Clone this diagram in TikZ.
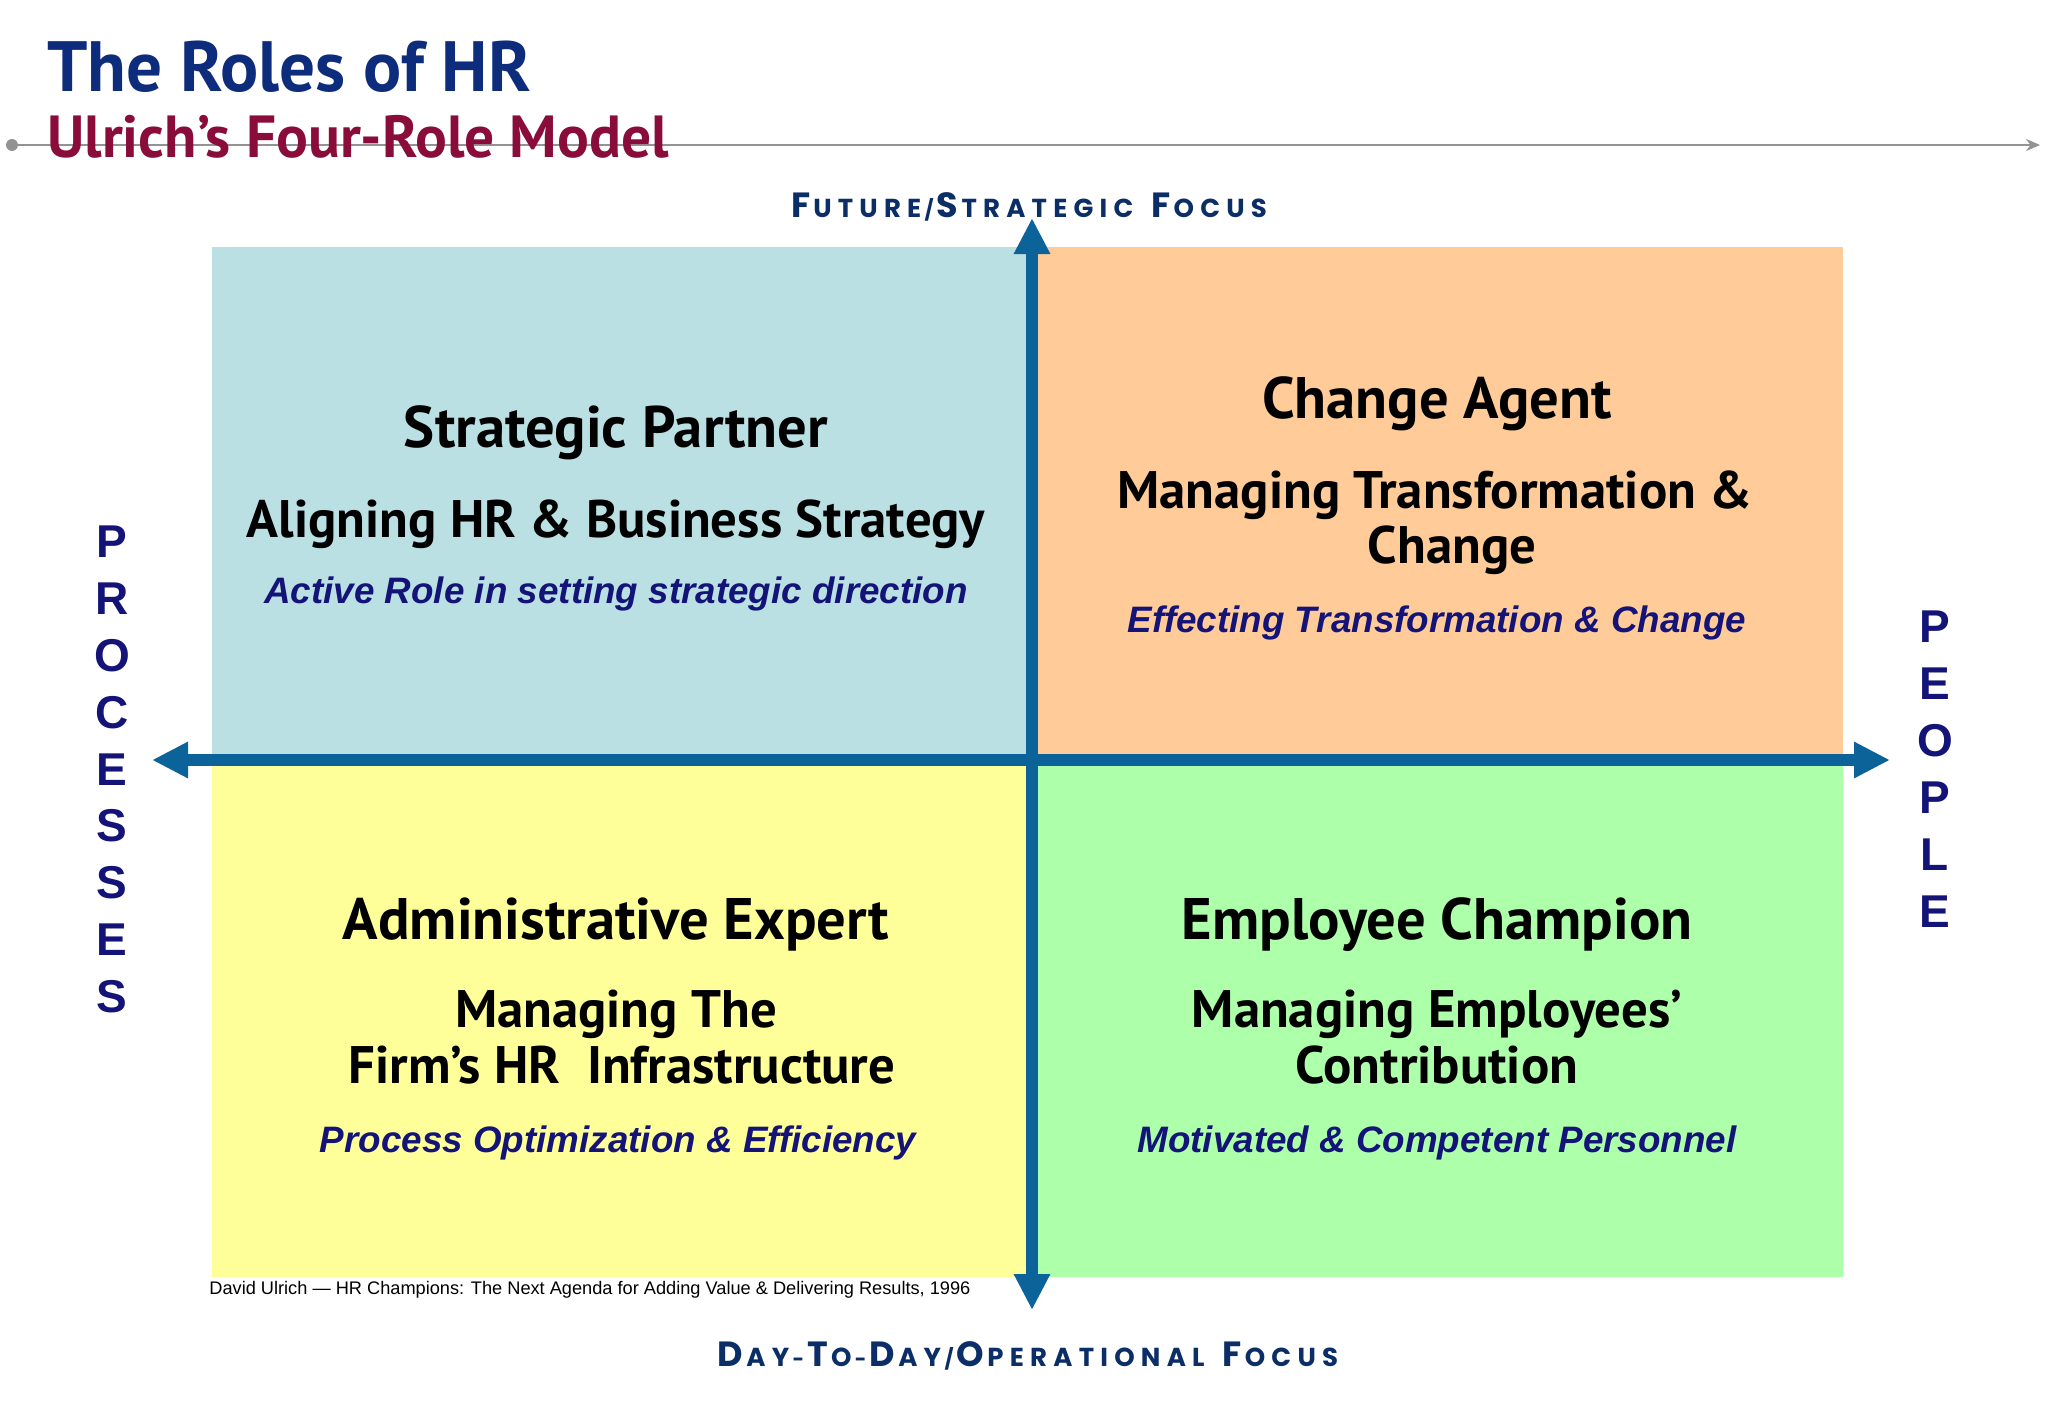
\documentclass[tikz,border=0pt]{standalone}
\usepackage{fontspec}
\usetikzlibrary{arrows.meta}
\setmainfont{Liberation Sans}
\newfontfamily\headfont{PT Sans}
\newfontfamily\axfont{Poppins}[LetterSpace=24]
\definecolor{qtl}{HTML}{BAE0E4}
\definecolor{qtr}{HTML}{FFCC99}
\definecolor{qbl}{HTML}{FFFF99}
\definecolor{qbr}{HTML}{ADFFAA}
\definecolor{axis}{HTML}{0B6399}
\definecolor{titleblue}{HTML}{0E2C7C}
\definecolor{subred}{HTML}{8A0C3A}
\definecolor{navy}{HTML}{141478}
\definecolor{axnavy}{HTML}{0B2E66}
\newcommand\bigsc[2]{{\fontsize{17.5}{18}\selectfont #1\kern1.5pt}{\fontsize{13}{14}\selectfont #2}}
\begin{document}
\begin{tikzpicture}[x=0.5pt,y=-0.5pt,
  quad/.style={fill=#1,draw=none},
  head/.style={inner sep=0,anchor=base,font=\headfont\bfseries\fontsize{29.3}{32}\selectfont,text=black},
  sub/.style={inner sep=0,anchor=base,font=\headfont\bfseries\fontsize{26.4}{30}\selectfont,text=black},
  ital/.style={inner sep=0,anchor=base,font=\bfseries\itshape\fontsize{18.4}{20}\selectfont,text=navy},
  letter/.style={inner sep=0,anchor=center,font=\bfseries\fontsize{23}{24}\selectfont,text=navy},
  axisarrow/.style={line width=6pt,draw=axis,-{Triangle[length=18pt,width=17pt]}},
  axlabel/.style={inner sep=0,anchor=base,font=\axfont\bfseries,text=axnavy}]
\useasboundingbox[fill=white] (0,0) rectangle (2048,1418);
% top rule
\coordinate (ruleL) at (12,145);
\coordinate (ruleR) at (2040,145);
\fill[gray!85] (ruleL) circle (6);
\draw[gray!85,line width=1pt,-{Stealth[length=7pt,width=6pt]}] (ruleL) -- (ruleR);
% titles
\node[inner sep=0,anchor=base west,font=\headfont\bfseries\fontsize{35.6}{38}\selectfont,text=titleblue] (title) at (47,91) {The Roles of HR};
\node[inner sep=0,anchor=base west,font=\headfont\bfseries\fontsize{29.7}{32}\selectfont,text=subred] (subtitle) at (47,157) {Ulrich’s Four-Role Model};
% quadrants
\fill[quad=qtl] (212,247) rectangle (1032,760);
\fill[quad=qtr] (1032,247) rectangle (1843,760);
\fill[quad=qbl] (212,760) rectangle (1032,1277);
\fill[quad=qbr] (1032,760) rectangle (1843,1277);
% axes
\coordinate (C) at (1032,760);
\coordinate (up) at (1032,218);
\coordinate (down) at (1032,1310);
\coordinate (left) at (152,760);
\coordinate (right) at (1890,760);
\draw[axisarrow] (C) -- (up);
\draw[axisarrow] (C) -- (down);
\draw[axisarrow] (C) -- (left);
\draw[axisarrow] (C) -- (right);
% axis labels
\node[axlabel] (fut) at (1029,217) {\bigsc{F}{UTURE}\,/\,\bigsc{S}{TRATEGIC}\ \ \bigsc{F}{OCUS}};
\node[axlabel] (day) at (1028,1366) {\bigsc{D}{AY}\,-\,\bigsc{T}{O}\,-\,\bigsc{D}{AY}\,/\,\bigsc{O}{PERATIONAL}\ \ \bigsc{F}{OCUS}};
% TL
\node[head] (tlh) at (616,447) {Strategic Partner};
\node[sub] (tls) at (616,537) {Aligning HR \& Business Strategy};
\node[ital] (tli) at (616,603) {Active Role in setting strategic direction};
% TR
\node[head] (trh) at (1437,418) {Change Agent};
\node[sub] (trs1) at (1435,508) {Managing Transformation \&};
\node[sub] (trs2) at (1452,563) {Change};
\node[ital] (tri) at (1437,632) {Effecting Transformation \& Change};
% BL
\node[head] (blh) at (616,939) {Administrative Expert};
\node[sub] (bls1) at (616,1027) {Managing The};
\node[sub] (bls2) at (622,1083) {Firm’s HR\ \ Infrastructure};
\node[ital] (bli) at (618,1152) {Process Optimization \& Efficiency};
% BR
\node[head] (brh) at (1437,939) {Employee Champion};
\node[sub] (brs1) at (1437,1027) {Managing Employees’};
\node[sub] (brs2) at (1437,1083) {Contribution};
\node[ital] (bri) at (1437,1152) {Motivated \& Competent Personnel};
% side letters
\foreach \ch [count=\i from 0] in {P,R,O,C,E,S,S,E,S}
  \node[letter] (proc\i) at (112,542+56.8*\i) {\ch};
\foreach \ch [count=\i from 0] in {P,E,O,P,L,E}
  \node[letter] (peop\i) at (1935,627+57*\i) {\ch};
% footer
\node[inner sep=0,anchor=base west,font=\fontsize{9.1}{11}\selectfont,text=black] (foot) at (209,1294) {David Ulrich — HR Champions: The Next Agenda for Adding Value \& Delivering Results, 1996};
\end{tikzpicture}
\end{document}
